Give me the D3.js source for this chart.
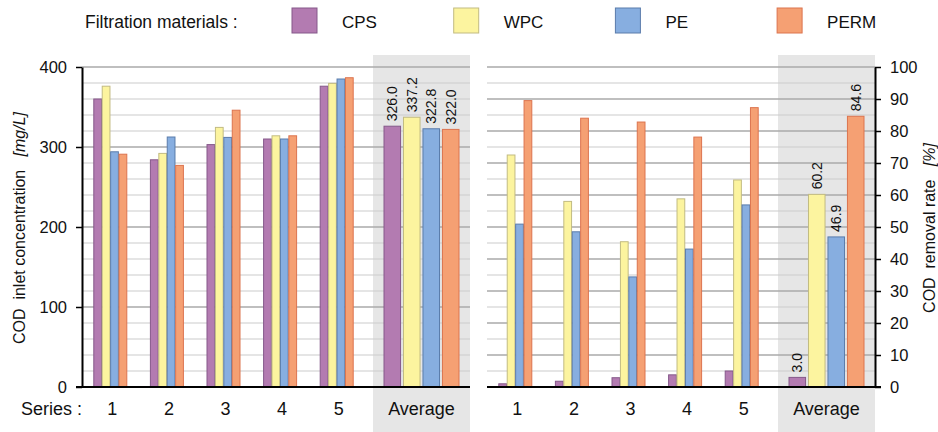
<!DOCTYPE html>
<html>
<head>
<meta charset="utf-8">
<script src="https://cdn.jsdelivr.net/npm/d3@7"></script>
<style>
  body { margin: 0; background: #fff; }
  text { font-family: "Liberation Sans", Arial, sans-serif; fill: #111; }
</style>
</head>
<body>
<svg id="chart" width="938" height="432"></svg>
<script>
// data
var materials = ["CPS", "WPC", "PE", "PERM"];
var series = ["1", "2", "3", "4", "5"];

// COD inlet concentration [mg/L], one array per material, series 1..5
var inletCPS  = [360, 284, 303, 310, 376];
var inletWPC  = [376, 292, 324.5, 314, 379.5];
var inletPE   = [294, 312.5, 312, 310, 385];
var inletPERM = [291, 277, 346, 314, 386.6];
var inletAvg  = [326.0, 337.2, 322.8, 322.0];

// COD removal rate [%]
var removalCPS  = [1.0, 1.8, 2.9, 3.8, 5.0];
var removalWPC  = [72.5, 58.0, 45.4, 58.8, 64.7];
var removalPE   = [50.9, 48.5, 34.4, 43.1, 56.9];
var removalPERM = [89.5, 84.0, 82.8, 78.1, 87.3];
var removalAvg  = [3.0, 60.2, 46.9, 84.6];

var leftTicks = [0, 100, 200, 300, 400];
var rightTicks = [0, 10, 20, 30, 40, 50, 60, 70, 80, 90, 100];

var fills   = ["#b37bb1", "#fcf49f", "#87aee0", "#f5a073"];
var strokes = ["#85598a", "#c2bb82", "#5a7cab", "#dc744f"];

(function () {
    var svg = d3.select("#chart");

    var color = d3.scaleOrdinal().domain(materials).range(fills);
    var edge = d3.scaleOrdinal().domain(materials).range(strokes);

    // legend
    svg.append("text").attr("x", 85).attr("y", 28).style("font-size", "17.5px")
        .text("Filtration materials :");
    var leg = svg.selectAll("g.leg").data(materials).join("g")
        .attr("class", "leg")
        .attr("transform", (d, i) => "translate(" + (292 + i * 161.7) + ",8)");
    leg.append("rect").attr("width", 25).attr("height", 25)
        .attr("fill", d => color(d)).attr("stroke", d => edge(d)).attr("stroke-width", 1);
    leg.append("text").attr("x", 50).attr("y", 20).style("font-size", "17px").text(d => d);

    // build one panel
    function panel(opts) {
        var x0 = opts.x0, top = 67, bottom = 387;
        var avgX0 = x0 + 291, avgX1 = avgX0 + 97;

        var y = d3.scaleLinear().domain([0, opts.max]).range([bottom, top]);
        var xSeries = d3.scaleBand().domain(series).range([x0, x0 + 283]);
        var xMat = d3.scaleBand().domain(materials).range([0, 33]).paddingInner(0.08);
        var xAvg = d3.scaleBand().domain(materials).range([avgX0 + 11, avgX0 + 86]).paddingInner(0.15);

        var g = svg.append("g");

        // gray average band
        g.append("rect").attr("x", avgX0).attr("y", 55)
            .attr("width", avgX1 - avgX0).attr("height", 432 - 55)
            .attr("fill", "#e6e6e6");

        // gridlines
        g.selectAll("line.grid").data(d3.range(opts.minor, opts.max + 0.001, opts.minor))
            .join("line")
            .attr("x1", x0).attr("x2", avgX1)
            .attr("y1", d => y(d)).attr("y2", d => y(d))
            .attr("stroke", d => (Math.round(d / opts.minor) % opts.every === 0) ? "#aaaaaa" : "#cccccc")
            .attr("stroke-width", d => (Math.round(d / opts.minor) % opts.every === 0) ? 1.6 : 1.2);

        // series bars
        var rows = [];
        series.forEach(function (s, i) {
            materials.forEach(function (m, j) {
                rows.push({ s: s, m: m, v: opts.values[j][i] });
            });
        });
        var off = (xSeries.bandwidth() - 33) / 2;
        g.selectAll("rect.bar").data(rows).join("rect")
            .attr("class", "bar")
            .attr("x", d => xSeries(d.s) + off + xMat(d.m))
            .attr("width", xMat.bandwidth())
            .attr("y", d => y(d.v))
            .attr("height", d => y(0) - y(d.v))
            .attr("fill", d => color(d.m))
            .attr("stroke", d => edge(d.m));

        // average bars
        var avgRows = materials.map((m, j) => ({ m: m, v: opts.avg[j] }));
        g.selectAll("rect.avg").data(avgRows).join("rect")
            .attr("class", "avg")
            .attr("x", d => xAvg(d.m))
            .attr("width", xAvg.bandwidth())
            .attr("y", d => y(d.v))
            .attr("height", d => y(0) - y(d.v))
            .attr("fill", d => color(d.m))
            .attr("stroke", d => edge(d.m));

        // value labels
        g.selectAll("text.val").data(avgRows).join("text")
            .attr("class", "val")
            .attr("transform", d => "translate(" + (xAvg(d.m) + xAvg.bandwidth() / 2 + 5) + "," + (y(d.v) - 5) + ") rotate(-90)")
            .style("font-size", "14px")
            .text(d => d.v.toFixed(1));

        // baseline
        g.append("line")
            .attr("x1", opts.side === "left" ? x0 - 6 : x0)
            .attr("x2", opts.side === "left" ? avgX1 : avgX1 + 6)
            .attr("y1", bottom).attr("y2", bottom)
            .attr("stroke", "#000").attr("stroke-width", 2);

        // y axis
        var axis = (opts.side === "left" ? d3.axisLeft(y) : d3.axisRight(y))
            .tickValues(opts.ticks).tickSize(6).tickSizeOuter(0).tickPadding(9);
        var ax = g.append("g")
            .attr("transform", "translate(" + (opts.side === "left" ? x0 : avgX1) + ",0)")
            .call(axis);
        ax.select(".domain").attr("stroke", "#000").attr("stroke-width", 2);
        ax.selectAll(".tick line").attr("stroke", "#000").attr("stroke-width", 1.5);
        ax.selectAll(".tick text").style("font-size", "16.5px").attr("fill", "#111")
            .style("font-family", "Liberation Sans, Arial, sans-serif");

        // x labels
        g.selectAll("text.cat").data(series).join("text")
            .attr("class", "cat")
            .attr("x", d => xSeries(d) + xSeries.bandwidth() / 2 + 2)
            .attr("y", 415).attr("text-anchor", "middle").style("font-size", "18px")
            .text(d => d);
        g.append("text").attr("x", (avgX0 + avgX1) / 2).attr("y", 415)
            .attr("text-anchor", "middle").style("font-size", "18px").text("Average");

        // axis title
        var t = g.append("text")
            .attr("transform", "translate(" + opts.titleX + ",228) rotate(-90)")
            .attr("text-anchor", "middle").attr("dy", "0.35em")
            .style("font-size", "16px").style("white-space", "pre");
        t.append("tspan").text(opts.title);
        t.append("tspan").style("font-style", "italic").text(opts.unit);
    }

    panel({
        side: "left", x0: 82, max: 400, minor: 20, every: 5, ticks: leftTicks,
        values: [inletCPS, inletWPC, inletPE, inletPERM], avg: inletAvg,
        titleX: 19, title: "COD  inlet concentration   ", unit: "[mg/L]"
    });
    panel({
        side: "right", x0: 487, max: 100, minor: 5, every: 2, ticks: rightTicks,
        values: [removalCPS, removalWPC, removalPE, removalPERM], avg: removalAvg,
        titleX: 929, title: "COD  removal rate   ", unit: "[%]"
    });

    svg.append("text").attr("x", 21).attr("y", 415).style("font-size", "18px").text("Series :");
})();
</script>
</body>
</html>
